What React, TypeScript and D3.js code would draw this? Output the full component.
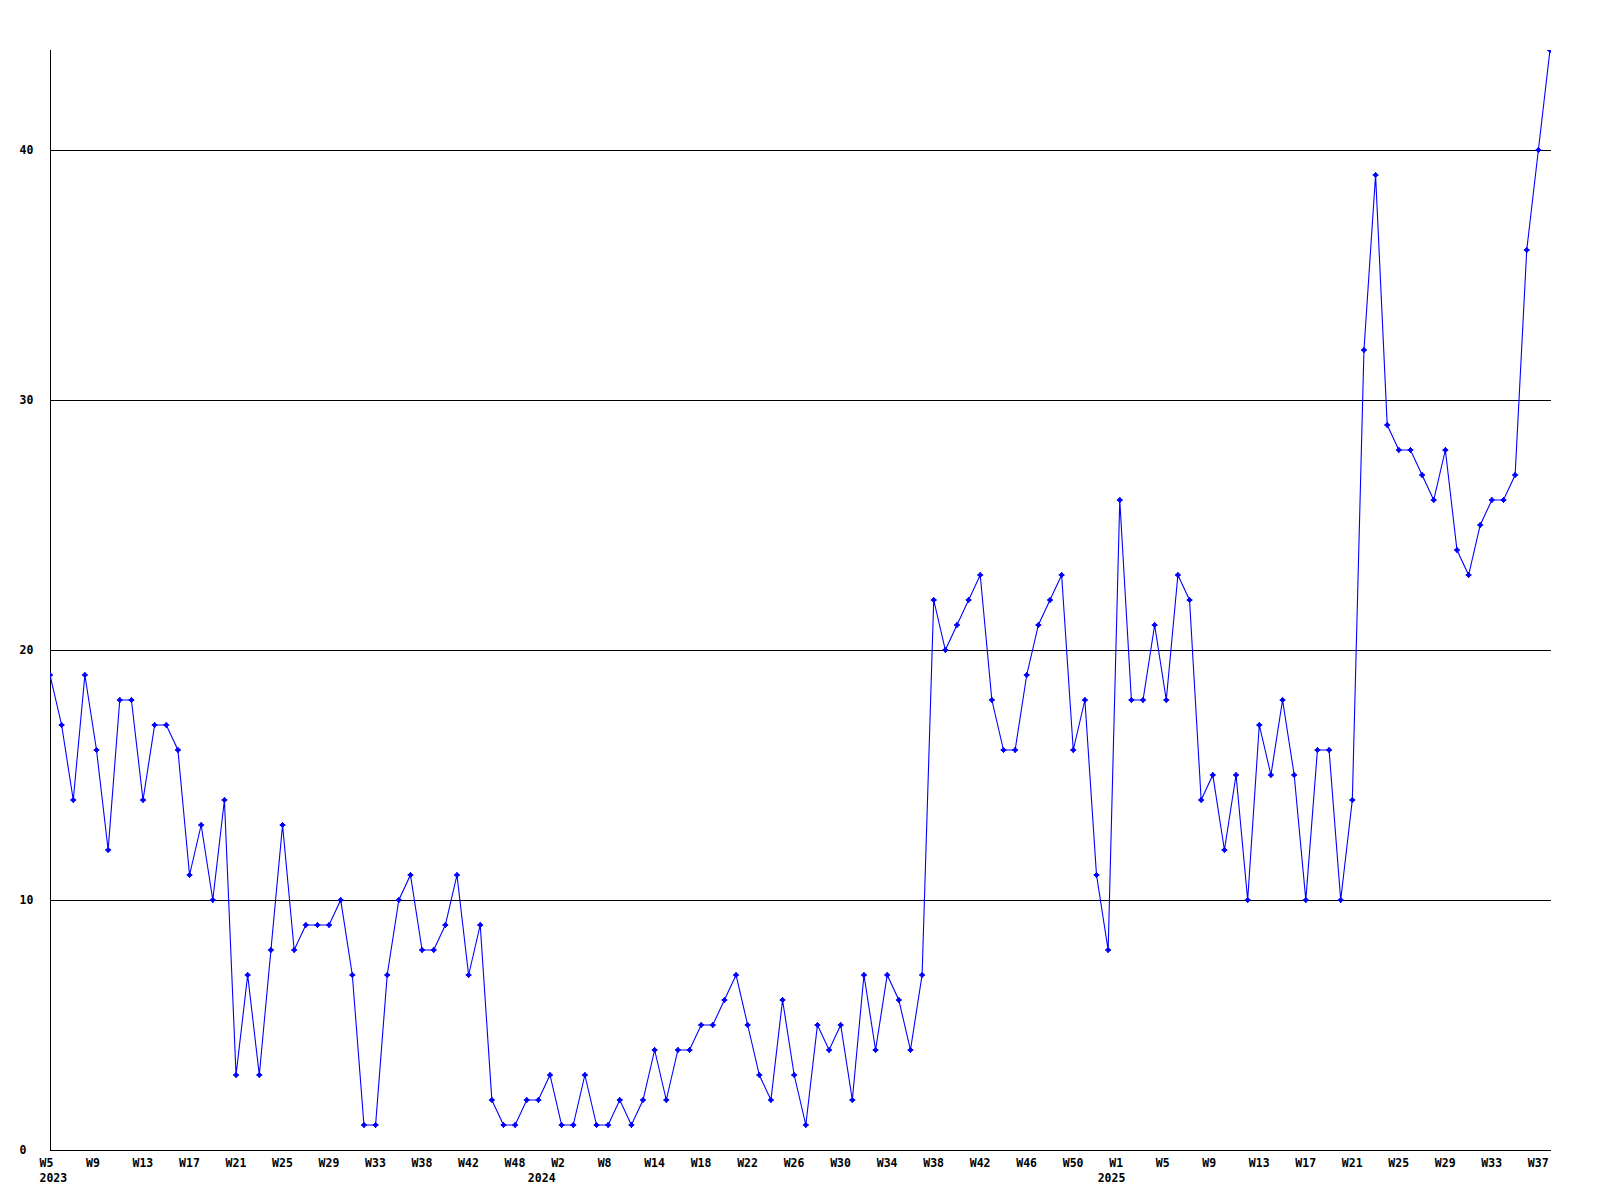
import React from "react";
import * as d3 from "d3";

// Weekly counts, 2023 W5 .. 2025 W38 (x is point index)
const values: number[] = [
  19, 17, 14, 19, 16, 12, 18, 18, 14, 17,
  17, 16, 11, 13, 10, 14, 3, 7, 3, 8,
  13, 8, 9, 9, 9, 10, 7, 1, 1, 7,
  10, 11, 8, 8, 9, 11, 7, 9, 2, 1,
  1, 2, 2, 3, 1, 1, 3, 1, 1, 2,
  1, 2, 4, 2, 4, 4, 5, 5, 6, 7,
  5, 3, 2, 6, 3, 1, 5, 4, 5, 2,
  7, 4, 7, 6, 4, 7, 22, 20, 21, 22,
  23, 18, 16, 16, 19, 21, 22, 23, 16, 18,
  11, 8, 26, 18, 18, 21, 18, 23, 22, 14,
  15, 12, 15, 10, 17, 15, 18, 15, 10, 16,
  16, 10, 14, 32, 39, 29, 28, 28, 27, 26,
  28, 24, 23, 25, 26, 26, 27, 36, 40, 44,
];

// Week tick labels, one every 4 points starting at point 0
const weekTickLabels: string[] = [
  "W5", "W9", "W13", "W17", "W21", "W25", "W29", "W33", "W38", "W42", "W48",
  "W2", "W8", "W14", "W18", "W22", "W26", "W30", "W34", "W38", "W42", "W46", "W50",
  "W1", "W5", "W9", "W13", "W17", "W21", "W25", "W29", "W33", "W37",
];
const weekTickStep = 4;

const yearLabels: string[] = ["2023", "2024", "2025"];
const yearLabelIndex: number[] = [0, 42, 91];

const yTicks: number[] = [0, 10, 20, 30, 40];
const yMax = 44;

const W = 1600;
const H = 1200;
const left = 50;
const right = 1550;
const top = 50;
const bottom = 1150;

const FONT = "'DejaVu Sans Mono', 'Liberation Mono', monospace";

export default function App() {
  const x = d3.scaleLinear().domain([0, values.length - 1]).range([left, right]);
  const y = d3.scaleLinear().domain([0, yMax]).range([bottom, top]);

  const line = d3
    .line<number>()
    .x((_, i) => x(i))
    .y((d) => y(d));

  const path = line(values) || "";

  return (
    <svg
      width={W}
      height={H}
      style={{ position: "absolute", left: 0, top: 0, background: "#fff" }}
      xmlns="http://www.w3.org/2000/svg"
    >
      <defs>
        <clipPath id="plot">
          <rect x={left} y={top} width={right - left + 1} height={bottom - top} />
        </clipPath>
      </defs>
      <rect x={0} y={0} width={W} height={H} fill="#fff" />

      {/* grid lines */}
      {yTicks
        .filter((t) => t > 0)
        .map((t) => (
          <line
            key={"g" + t}
            x1={left}
            x2={right + 1}
            y1={Math.round(y(t)) + 0.5}
            y2={Math.round(y(t)) + 0.5}
            stroke="#000"
            strokeWidth={1}
            shapeRendering="crispEdges"
          />
        ))}

      {/* axes */}
      <line
        x1={left + 0.5}
        x2={left + 0.5}
        y1={top}
        y2={bottom + 0.5}
        stroke="#000"
        strokeWidth={1}
        shapeRendering="crispEdges"
      />
      <line
        x1={left}
        x2={right + 1}
        y1={bottom + 0.5}
        y2={bottom + 0.5}
        stroke="#000"
        strokeWidth={1}
        shapeRendering="crispEdges"
      />

      {/* y labels */}
      {yTicks.map((t) => (
        <text
          key={"yl" + t}
          x={19.5}
          y={y(t) + 4}
          fontFamily={FONT}
          fontWeight="bold"
          fontSize={11.5}
          fill="#000"
        >
          {t}
        </text>
      ))}

      {/* x labels */}
      {weekTickLabels.map((lab, k) => (
        <text
          key={"xl" + k}
          x={x(k * weekTickStep) - 10.5}
          y={1167}
          fontFamily={FONT}
          fontWeight="bold"
          fontSize={11.5}
          fill="#000"
        >
          {lab}
        </text>
      ))}
      {yearLabels.map((lab, k) => (
        <text
          key={"yr" + k}
          x={x(yearLabelIndex[k]) - 10.5}
          y={1181.5}
          fontFamily={FONT}
          fontWeight="bold"
          fontSize={11.5}
          fill="#000"
        >
          {lab}
        </text>
      ))}

      {/* series */}
      <g clipPath="url(#plot)">
        <path d={path} fill="none" stroke="#0000ff" strokeWidth={1.1} />
        {values.map((v, i) => {
          const cx = x(i);
          const cy = y(v);
          return (
            <path
              key={"m" + i}
              d={`M${cx - 2.5},${cy}L${cx},${cy - 2.5}L${cx + 2.5},${cy}L${cx},${cy + 2.5}Z M${cx - 3},${cy} H${cx + 3} M${cx},${cy - 3} V${cy + 3}`}
              fill="#0000ff"
              stroke="#0000ff"
              strokeWidth={1}
            />
          );
        })}
      </g>
    </svg>
  );
}
